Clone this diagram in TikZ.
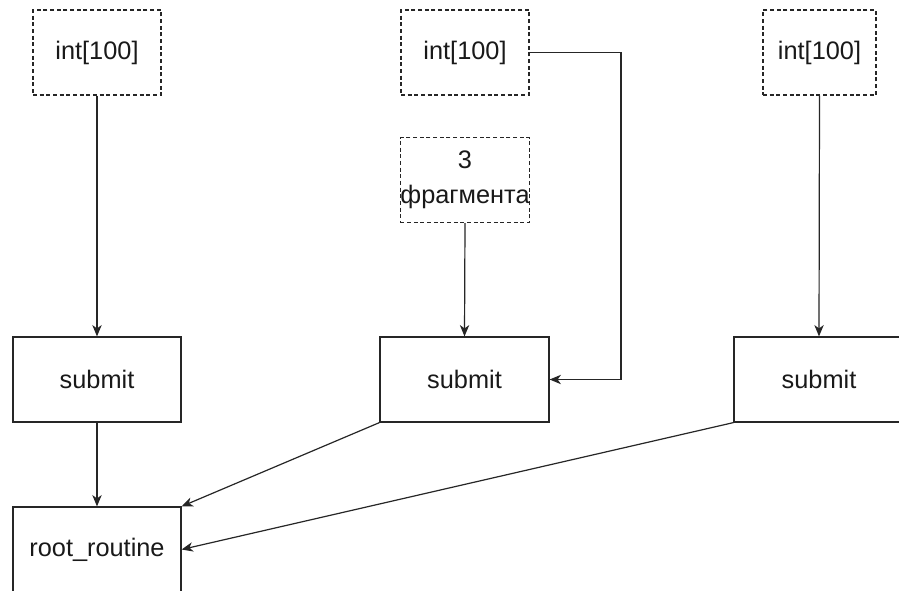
\documentclass[tikz,border=0pt]{standalone}
\usepackage{fontspec}
\setmainfont{Liberation Sans}
\usetikzlibrary{arrows.meta}
\begin{document}
\begin{tikzpicture}[x=0.75pt,y=-0.75pt,
  lbl/.style={font=\fontsize{19}{26}\selectfont, text=black!90, align=center, inner sep=0pt},
  dbox/.style={lbl, draw=black!85, line width=0.9pt, dash pattern=on 3pt off 2pt, minimum width=96pt, minimum height=63.75pt},
  sbox/.style={lbl, draw=black!85, line width=0.9pt, minimum height=63.75pt},
  conn/.style={draw=black!85, line width=0.9pt, -{Stealth[length=8.5pt,width=7pt,inset=2.5pt]}}]
\clip (0,0) rectangle (899,590);
\fill[white] (0,0) rectangle (899,590);
\node[dbox] (b1) at (97,52.5) {int[100]};
\node[dbox] (b2) at (465,52.5) {int[100]};
\node[dbox] (b3) at (465,180) {3\\фрагмента};
\node[dbox, minimum width=84.75pt] (b4) at (819.5,52.5) {int[100]};
\node[sbox, minimum width=126pt] (s1) at (97,379.5) {submit};
\node[sbox, minimum width=126.75pt] (s2) at (464.5,379.5) {submit};
\node[sbox, minimum width=127.5pt] (s3) at (819,379.5) {submit};
\node[sbox, minimum width=126pt] (root) at (97,549.5) {root\_routine};
\coordinate (k) at (621,52.5);
\draw[conn] (b1.south) -- (s1.north);
\draw[conn] (s1.south) -- (root.north);
\draw[conn] (b3.south) -- (s2.north);
\draw[conn] (b2.east) -- (k) |- (s2.east);
\draw[conn] (b4.south) -- (s3.north);
\draw[conn] (s2.south west) -- (root.north east);
\draw[conn] (s3.south west) -- (root.east);
\end{tikzpicture}
\end{document}
